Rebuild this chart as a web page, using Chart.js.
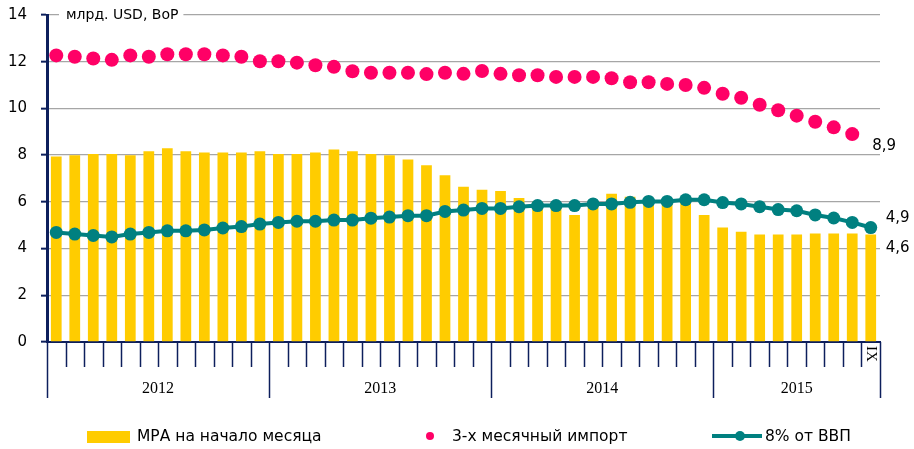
<!DOCTYPE html>
<html>
<head>
<meta charset="utf-8">
<script src="https://cdn.jsdelivr.net/npm/chart.js@4/dist/chart.umd.min.js"></script>
<style>
  body { margin: 0; background: #fff; }
  #wrap { width: 914px; height: 449px; }
</style>
</head>
<body>
<div id="wrap"><canvas id="reserves_chart" width="914" height="449"></canvas></div>
<script>
// months per year shown on the axis (2015 ends in September)
var years = ['2012', '2013', '2014', '2015'];
var monthsInYear = [12, 12, 12, 9];
var romanMonths = ['I', 'II', 'III', 'IV', 'V', 'VI', 'VII', 'VIII', 'IX', 'X', 'XI', 'XII'];

// МРА на начало месяца, млрд. USD
var reservesStart = [
  7.94, 8.00, 8.05, 8.05, 8.00, 8.17, 8.30, 8.17, 8.11, 8.11, 8.11, 8.17,
  8.05, 8.05, 8.11, 8.24, 8.17, 8.05, 8.00, 7.81, 7.57, 7.14, 6.65, 6.52,
  6.47, 6.17, 6.00, 5.95, 5.44, 6.00, 6.35, 6.22, 6.10, 6.05, 6.10, 5.44,
  4.90, 4.72, 4.60, 4.60, 4.60, 4.65, 4.65, 4.65, 4.60
];
// 3-х месячный импорт
var importCover = [
  12.27, 12.21, 12.14, 12.08, 12.27, 12.21, 12.32, 12.32, 12.32, 12.27, 12.21, 12.02,
  12.02, 11.96, 11.85, 11.78, 11.59, 11.53, 11.53, 11.53, 11.47, 11.53, 11.48, 11.60,
  11.48, 11.42, 11.42, 11.35, 11.35, 11.35, 11.29, 11.12, 11.12, 11.05, 11.00, 10.88,
  10.63, 10.46, 10.16, 9.92, 9.69, 9.43, 9.19, 8.90, null
];
// 8% от ВВП
var gdpShare = [
  4.69, 4.62, 4.56, 4.50, 4.62, 4.69, 4.76, 4.76, 4.80, 4.88, 4.94, 5.05,
  5.12, 5.17, 5.17, 5.22, 5.22, 5.30, 5.35, 5.41, 5.41, 5.59, 5.65, 5.72,
  5.72, 5.79, 5.84, 5.84, 5.84, 5.91, 5.91, 5.98, 6.02, 6.02, 6.09, 6.09,
  5.97, 5.91, 5.79, 5.67, 5.62, 5.44, 5.31, 5.12, 4.90
];
var yTicks = [0, 2, 4, 6, 8, 10, 12, 14];

var labels = [];
years.forEach(function (y, k) {
  for (var m = 0; m < monthsInYear[k]; m++) labels.push(romanMonths[m] + ' ' + y);
});

var NAVY = '#0d1f5c';
var GRID = '#a6a6a6';
var YELLOW = '#ffcc00';
var PINK = '#ff0066';
var TEAL = '#008080';
var SANS = '"DejaVu Sans", Verdana, sans-serif';
var SERIF = '"Liberation Serif", "Times New Roman", serif';

function fmt(v) { return v.toFixed(1).replace('.', ','); }

// axis decoration, year groups, caption, end values and legend
var decorations = {
  id: 'decorations',
  afterDraw: function (chart) {
    var ctx = chart.ctx, xs = chart.scales.x, area = chart.chartArea;
    var n = labels.length;
    var step = xs.getPixelForValue(1) - xs.getPixelForValue(0);
    var base = area.bottom;
    ctx.save();

    // month and year separators under the axis
    var yearStarts = [0];
    monthsInYear.forEach(function (c, k) { yearStarts.push(yearStarts[k] + c); });
    ctx.strokeStyle = NAVY;
    ctx.lineWidth = 1.5;
    for (var i = 0; i <= n; i++) {
      var bx = Math.round(xs.getPixelForValue(Math.min(i, n - 1)) + (i < n ? -step / 2 : step / 2)) + 0.5;
      var isYear = yearStarts.indexOf(i) >= 0;
      ctx.beginPath();
      ctx.moveTo(bx, base);
      ctx.lineTo(bx, base + (isYear ? 56 : 25));
      ctx.stroke();
    }

    // year captions
    ctx.fillStyle = '#000';
    ctx.font = '16px ' + SERIF;
    ctx.textAlign = 'center';
    ctx.textBaseline = 'middle';
    years.forEach(function (y, k) {
      var x0 = xs.getPixelForValue(yearStarts[k]) - step / 2;
      var x1 = xs.getPixelForValue(yearStarts[k + 1] - 1) + step / 2;
      ctx.fillText(y, (x0 + x1) / 2, base + 47);
    });

    // last month, rotated
    var lastX = xs.getPixelForValue(n - 1);
    ctx.save();
    ctx.translate(lastX, base + 12);
    ctx.rotate(Math.PI / 2);
    ctx.font = '15px ' + SERIF;
    ctx.fillText(romanMonths[monthsInYear[monthsInYear.length - 1] - 1], 0, 0);
    ctx.restore();

    // unit caption on the top gridline
    ctx.font = '14px ' + SANS;
    ctx.textAlign = 'left';
    var cap = 'млрд. USD, BoP';
    var cw = ctx.measureText(cap).width;
    ctx.fillStyle = '#fff';
    ctx.fillRect(area.left + 12, area.top - 9, cw + 12, 18);
    ctx.fillStyle = '#000';
    ctx.fillText(cap, area.left + 19, area.top);

    // values at the end of each series
    ctx.font = '15px ' + SANS;
    var impIdx = importCover.length - 2;
    var pImp = chart.getDatasetMeta(1).data[impIdx];
    ctx.fillText(fmt(importCover[impIdx]), pImp.x + 20, pImp.y + 12);
    var pGdp = chart.getDatasetMeta(0).data[n - 1];
    ctx.fillText(fmt(gdpShare[n - 1]), pGdp.x + 15, pGdp.y - 9);
    var pBar = chart.getDatasetMeta(2).data[n - 1];
    ctx.fillText(fmt(reservesStart[n - 1]), pBar.x + 15, pBar.y + 14);

    // legend
    var ly = 437;
    ctx.font = '15.5px ' + SANS;
    ctx.fillStyle = YELLOW;
    ctx.fillRect(87, ly - 6, 43, 12);
    ctx.fillStyle = '#000';
    ctx.fillText('МРА на начало месяца', 137, ly);

    ctx.fillStyle = PINK;
    ctx.beginPath();
    ctx.arc(430, ly - 1, 4, 0, Math.PI * 2);
    ctx.fill();
    ctx.fillStyle = '#000';
    ctx.fillText('3-х месячный импорт', 452, ly);

    ctx.strokeStyle = TEAL;
    ctx.lineWidth = 4;
    ctx.beginPath();
    ctx.moveTo(712, ly - 1);
    ctx.lineTo(762, ly - 1);
    ctx.stroke();
    ctx.fillStyle = TEAL;
    ctx.beginPath();
    ctx.arc(740, ly - 1, 5, 0, Math.PI * 2);
    ctx.fill();
    ctx.fillStyle = '#000';
    ctx.fillText('8% от ВВП', 765, ly);

    ctx.restore();
  }
};

new Chart(document.getElementById('reserves_chart'), {
  type: 'bar',
  data: {
    labels: labels,
    datasets: [
      {
        type: 'line',
        label: '8% от ВВП',
        data: gdpShare,
        borderColor: TEAL,
        backgroundColor: TEAL,
        borderWidth: 4,
        pointRadius: 6.5,
        pointBorderWidth: 0,
        tension: 0,
        order: 0
      },
      {
        type: 'line',
        label: '3-х месячный импорт',
        data: importCover,
        showLine: false,
        backgroundColor: PINK,
        borderColor: PINK,
        pointRadius: 7,
        pointBorderWidth: 0,
        order: 1
      },
      {
        label: 'МРА на начало месяца',
        data: reservesStart,
        backgroundColor: YELLOW,
        barPercentage: 0.58,
        categoryPercentage: 1,
        order: 2
      }
    ]
  },
  options: {
    responsive: false,
    animation: false,
    layout: { padding: { left: 0, right: 34, top: 15, bottom: 99 } },
    plugins: {
      legend: { display: false },
      tooltip: { enabled: false }
    },
    scales: {
      x: {
        grid: { display: false },
        ticks: { display: false },
        border: { display: true, color: NAVY, width: 2 }
      },
      y: {
        min: 0,
        max: 14,
        afterBuildTicks: function (scale) {
          scale.ticks = yTicks.map(function (v) { return { value: v }; });
        },
        afterFit: function (scale) {
          // fixed axis width; labels may overhang the plot top and bottom
          scale.width = 47;
          scale.paddingTop = 0;
          scale.paddingBottom = 0;
        },
        ticks: {
          padding: 14,
          color: '#000',
          font: { family: SANS, size: 15 }
        },
        grid: { color: GRID, lineWidth: 1.3, tickColor: NAVY, tickLength: 6, tickWidth: 2 },
        border: { color: NAVY, width: 3 }
      }
    }
  },
  plugins: [decorations]
});
</script>
</body>
</html>
